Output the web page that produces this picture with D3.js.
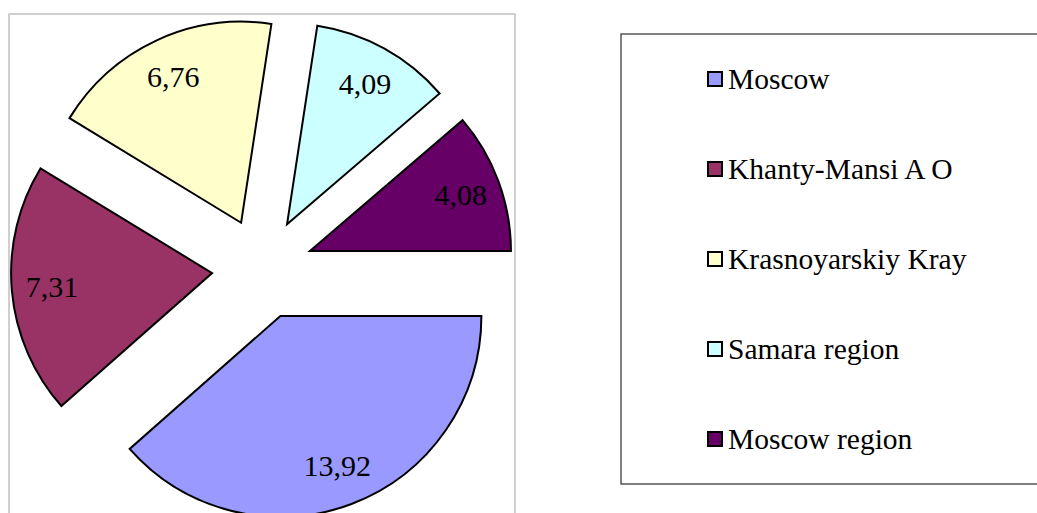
<!DOCTYPE html>
<html>
<head>
<meta charset="utf-8">
<script src="https://cdn.jsdelivr.net/npm/d3@7"></script>
<style>
  html, body { margin: 0; padding: 0; background: #fff; }
  svg { display: block; }
</style>
</head>
<body>
<svg id="chart" width="1037" height="513"></svg>
<script>
const categories = ["Moscow", "Khanty-Mansi A O", "Krasnoyarskiy Kray", "Samara region", "Moscow region"];
const values = [13.92, 7.31, 6.76, 4.09, 4.08];
const valueLabels = ["13,92", "7,31", "6,76", "4,09", "4,08"];
const colors = ["#9999FF", "#993366", "#FFFFCC", "#CCFFFF", "#660066"];

const FONT = "'Liberation Serif', 'Times New Roman', Times, 'DejaVu Serif', serif";
const svg = d3.select("#chart");

// plot area border
svg.append("rect")
  .attr("x", 9).attr("y", 14).attr("width", 506).attr("height", 520)
  .attr("fill", "#fff").attr("stroke", "#c0c0c0").attr("stroke-width", 1.5);

const cx = 262.5, cy = 268.6, r = 201, explode = 50.6;
const color = d3.scaleOrdinal().domain(categories).range(colors);

const data = categories.map((c, i) => ({ name: c, value: values[i], label: valueLabels[i] }));
const pie = d3.pie().sort(null).value(d => d.value)
  .startAngle(Math.PI / 2).endAngle(Math.PI / 2 + 2 * Math.PI);
const arc = d3.arc().innerRadius(0).outerRadius(r);
const arcs = pie(data);

const g = svg.append("g").attr("transform", `translate(${cx},${cy})`);
const slices = g.selectAll("g.slice").data(arcs).enter().append("g")
  .attr("class", "slice")
  .attr("transform", d => {
    const a = (d.startAngle + d.endAngle) / 2;
    return `translate(${explode * Math.sin(a)},${-explode * Math.cos(a)})`;
  });
slices.append("path")
  .attr("d", arc)
  .attr("fill", d => color(d.data.name))
  .attr("stroke", "#000").attr("stroke-width", 2).attr("stroke-linejoin", "miter");
slices.append("text")
  .attr("x", d => { const a = (d.startAngle + d.endAngle) / 2; return 0.8 * r * Math.sin(a); })
  .attr("y", d => { const a = (d.startAngle + d.endAngle) / 2; return -0.8 * r * Math.cos(a) + 10; })
  .attr("text-anchor", "middle")
  .attr("font-family", FONT)
  .attr("font-size", 30)
  .attr("fill", "#000")
  .text(d => d.data.label);

// legend
svg.append("rect")
  .attr("x", 621).attr("y", 34).attr("width", 430).attr("height", 450)
  .attr("fill", "#fff").attr("stroke", "#555").attr("stroke-width", 1.5);
const leg = svg.append("g");
const rowY = d3.scalePoint().domain(categories).range([79, 439]);
const items = leg.selectAll("g").data(categories).enter().append("g")
  .attr("transform", d => `translate(0,${rowY(d)})`);
items.append("rect")
  .attr("x", 708).attr("y", -7).attr("width", 14).attr("height", 14)
  .attr("fill", d => color(d)).attr("stroke", "#000").attr("stroke-width", 2);
items.append("text")
  .attr("x", 728).attr("y", 9.5)
  .attr("font-family", FONT)
  .attr("font-size", 29.5)
  .attr("fill", "#000")
  .text(d => d);
</script>
</body>
</html>
